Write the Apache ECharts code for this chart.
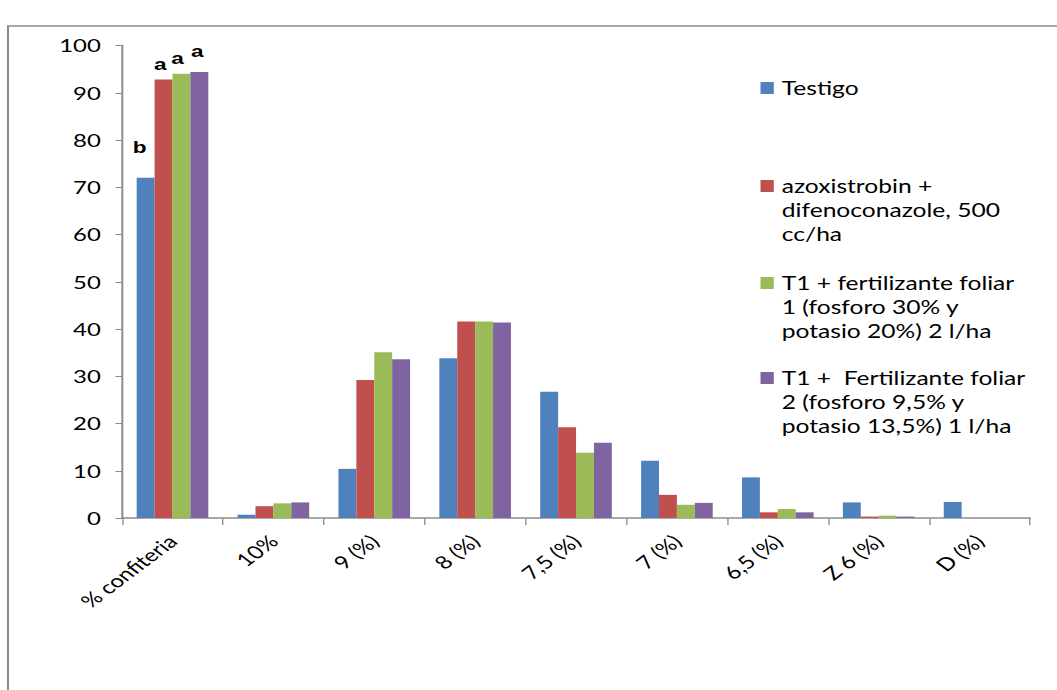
<!DOCTYPE html>
<html>
<head>
<meta charset="utf-8">
<script src="https://cdn.jsdelivr.net/npm/echarts@6/dist/echarts.min.js"></script>
<style>
  html, body { margin: 0; padding: 0; background: #fff; overflow: hidden; }
  /* The chart is laid out on a narrower canvas and widened to the page width,
     giving the broad, horizontally stretched lettering of the original sheet. */
  #chart { width: 795px; height: 690px; transform: scaleX(1.32956); transform-origin: 0 0; }
</style>
</head>
<body>
<div id="chart"></div>
<script>
// Categories of grain size classes
const categories = ['% confiteria', '10%', '9 (%)', '8 (%)', '7,5 (%)', '7 (%)', '6,5 (%)', 'Z 6 (%)', 'D (%)'];

// Treatment names (legend text)
const seriesNames = [
  'Testigo',
  'azoxistrobin +\ndifenoconazole, 500\ncc/ha',
  'T1 + fertilizante foliar\n1 (fosforo 30% y\npotasio 20%) 2 l/ha',
  'T1 +  Fertilizante foliar\n2 (fosforo 9,5% y\npotasio 13,5%) 1 l/ha'
];

// Percentages per treatment
const testigo     = [72.0, 0.7, 10.4, 33.8, 26.7, 12.1, 8.6, 3.3, 3.4];
const azoxi       = [92.8, 2.5, 29.2, 41.6, 19.2, 4.9, 1.2, 0.3, 0];
const fertFoliar1 = [94.0, 3.1, 35.1, 41.6, 13.8, 2.8, 1.9, 0.5, 0];
const fertFoliar2 = [94.4, 3.3, 33.6, 41.4, 15.9, 3.2, 1.2, 0.3, 0];

// Significance letters over the first group
const letters = ['b', 'a', 'a', 'a'];

const yTicks = { min: 0, max: 100, interval: 10 };

const colors = ['#4F81BD', '#C0504D', '#9BBB59', '#8064A2'];
const letterOffsets = [[-4.5, -17], [-2.5, -2], [-3, -2], [-1.5, -7]];
// vertical position of each legend block (first text line centred on its key)
const legendTops = [76, 126, 223, 318];

const valueSets = [testigo, azoxi, fertFoliar1, fertFoliar2];
const FONT = 'Lato, "Open Sans", sans-serif';
const AXIS_COLOR = '#8c8c8c';

const series = valueSets.map((vals, i) => ({
  name: seriesNames[i],
  type: 'bar',
  barGap: '0%',
  barCategoryGap: '29%',
  itemStyle: { color: colors[i] },
  data: vals.map((v, j) => j === 0 ? {
    value: v,
    label: {
      show: true,
      position: 'top',
      formatter: letters[i],
      offset: letterOffsets[i],
      fontFamily: 'Liberation Sans, Arial, sans-serif',
      fontWeight: 'bold',
      fontSize: 17,
      color: '#000'
    }
  } : v)
}));

const legends = seriesNames.map((n, i) => ({
  data: [n],
  left: 572,
  top: legendTops[i],
  padding: 0,
  orient: 'vertical',
  itemWidth: 10,
  itemHeight: 12,
  itemGap: 0,
  icon: 'rect',
  selectedMode: false,
  // multi-line names: two empty lines in front keep the key beside the first line
  formatter: name => name.indexOf('\n') >= 0 ? '\n\n' + name : name,
  textStyle: { fontFamily: FONT, fontSize: 18.5, color: '#000', lineHeight: 24, padding: [0, 0, 0, 1] }
}));

const chart = echarts.init(document.getElementById('chart'), null, { renderer: 'svg' });
chart.setOption({
  animation: false,
  color: colors,
  graphic: [{
    type: 'rect',
    shape: { x: 6, y: 26, width: 900, height: 700 },
    style: { fill: 'none', stroke: '#8a8a8a', lineWidth: 1.5 },
    silent: true
  }],
  legend: legends,
  grid: { left: 91.8, right: 20.3, top: 45.5, bottom: 172, containLabel: false },
  xAxis: {
    type: 'category',
    data: categories,
    axisLine: { lineStyle: { color: AXIS_COLOR, width: 1.5 } },
    axisTick: { show: true, length: 7, lineStyle: { color: AXIS_COLOR } },
    axisLabel: {
      rotate: 45,
      margin: 20,
      fontFamily: FONT,
      fontSize: 18,
      color: '#000'
    }
  },
  yAxis: {
    type: 'value',
    min: yTicks.min,
    max: yTicks.max,
    interval: yTicks.interval,
    splitLine: { show: false },
    axisLine: { show: true, lineStyle: { color: AXIS_COLOR, width: 1.5 } },
    axisTick: { show: true, length: 5, lineStyle: { color: AXIS_COLOR } },
    axisLabel: { fontFamily: FONT, fontSize: 18, color: '#000', margin: 16 }
  },
  series: series
});
</script>
</body>
</html>
